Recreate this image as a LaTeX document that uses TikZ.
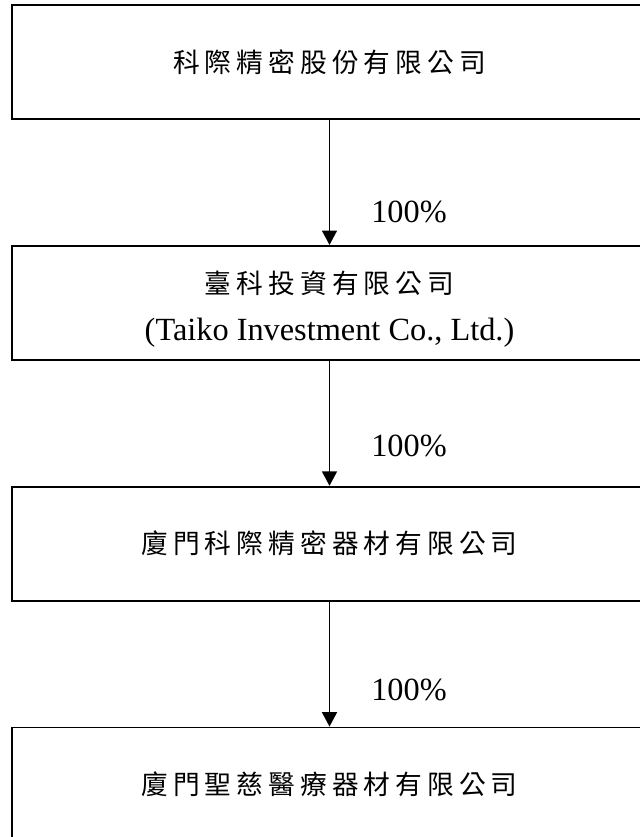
\documentclass[tikz,border=0pt]{standalone}
\usepackage{fontspec}
\setmainfont{Liberation Serif}
\newfontfamily\cjk{Noto Sans CJK TC}[LetterSpace=19]
\usetikzlibrary{positioning,arrows.meta}
\tikzset{
	empresa/.style={rectangle, draw, line width=1.3pt, minimum width=15.875cm, 
		minimum height=2.85cm, inner sep=0pt, align=center, 
		font=\fontsize{23}{34}\selectfont},
	flecha/.style={-{Triangle[length=0.36cm, width=0.375cm]}, line width=1.1pt},
	porcentaje/.style={right, inner sep=0pt, xshift=1.025cm, 
		font=\fontsize{23}{26}\selectfont}
}
\newcommand{\nombre}[1]{{\cjk\fontsize{19}{34}\selectfont #1}}

\begin{document}
\begin{tikzpicture}[node distance=3.125cm]
			\useasboundingbox (0,0) rectangle (16,-20.925);
			\node[empresa] (matriz) at (8.2375,-1.55) {\nombre{科際精密股份有限公司}};
			\node[empresa, below=of matriz] (taiko) {\rule{0pt}{25pt}\nombre{臺科投資有限公司}\\(Taiko Investment Co., Ltd.)};
			\node[empresa, below=of taiko] (xiamen) {\nombre{廈門科際精密器材有限公司}};
			\node[empresa, below=of xiamen] (shengci) {\nombre{廈門聖慈醫療器材有限公司}};
			
			\draw[flecha] (matriz) -- node[porcentaje, pos=0.74] {100\%} (taiko);
			\draw[flecha] (taiko) -- node[porcentaje, pos=0.685] {100\%} (xiamen);
			\draw[flecha] (xiamen) -- node[porcentaje, pos=0.71] {100\%} (shengci);
		\end{tikzpicture}
\end{document}
